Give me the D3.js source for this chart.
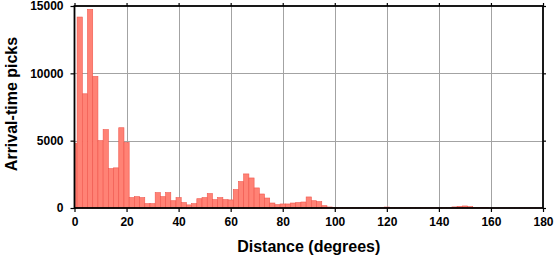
<!DOCTYPE html>
<html>
<head>
<meta charset="utf-8">
<script src="https://cdn.jsdelivr.net/npm/d3@7"></script>
<style>
  body { margin: 0; background: #fff; }
  text { font-family: "Liberation Sans", Arial, sans-serif; font-weight: bold; fill: #000; }
</style>
</head>
<body>
<div id="chart"></div>
<script>
// bin centres (degrees), 2-degree bins, first/last clipped at 0 / 180
const binCenters = d3.range(0, 182, 2);
const picks = [
  4800, 14180, 8480, 14750, 9770, 5000, 5820, 2920, 2980, 5960,
  4860, 770, 840, 770, 320, 320, 1140, 840, 1140, 540,
  770, 400, 230, 320, 690, 770, 1070, 620, 770, 620,
  600, 1370, 1960, 2530, 2230, 1490, 1040, 740, 370, 245,
  300, 300, 370, 400, 445, 820, 540, 470, 170, 75,
  30, 20, 20, 20, 20, 20, 20, 20, 20, 20,
  70, 20, 20, 20, 20, 20, 20, 20, 20, 20,
  20, 20, 20, 80, 120, 150, 100, 30, 30, 30,
  5, 5, 5, 5, 5, 5, 5, 5, 5, 5, 5
];
const xTicks = d3.range(0, 181, 20);
const yTicks = [0, 5000, 10000, 15000];

const W = 555, H = 258;
const mLeft = 74.5, mRight = 543, mTop = 6, mBottom = 208;

const x = d3.scaleLinear().domain([0, 180]).range([mLeft, mRight]);
const y = d3.scaleLinear().domain([0, 15000]).range([mBottom, mTop]);

const svg = d3.select("#chart").append("svg")
    .attr("width", W)
    .attr("height", H);

// grid
const grid = svg.append("g").attr("stroke", "#a3a3a3").attr("stroke-width", 1);
grid.selectAll("line.gx")
    .data(xTicks.slice(1, -1))
    .enter().append("line")
    .attr("x1", d => Math.round(x(d)) + 0.5).attr("x2", d => Math.round(x(d)) + 0.5)
    .attr("y1", mTop).attr("y2", mBottom);
grid.selectAll("line.gy")
    .data(yTicks.slice(1, -1))
    .enter().append("line")
    .attr("x1", mLeft).attr("x2", mRight)
    .attr("y1", d => Math.round(y(d)) + 0.5).attr("y2", d => Math.round(y(d)) + 0.5);

// bars
const bins = binCenters.map((c, i) => ({
    x0: Math.max(0, c - 1),
    x1: Math.min(180, c + 1),
    v: picks[i]
}));

svg.append("g")
    .selectAll("rect")
    .data(bins)
    .enter().append("rect")
    .attr("x", d => x(d.x0))
    .attr("width", d => x(d.x1) - x(d.x0))
    .attr("y", d => y(d.v))
    .attr("height", d => mBottom - y(d.v))
    .attr("fill", "#ff8275")
    .attr("stroke", "#f0564c")
    .attr("stroke-width", 0.6);

// frame
svg.append("rect")
    .attr("x", mLeft).attr("y", mTop)
    .attr("width", mRight - mLeft).attr("height", mBottom - mTop)
    .attr("fill", "none")
    .attr("stroke", "#000")
    .attr("stroke-width", 1.8);

// axes
const fmt = d3.format("d");
const xAxis = svg.append("g")
    .attr("transform", `translate(0,${mBottom})`)
    .call(d3.axisBottom(x).tickValues(xTicks).tickFormat(fmt).tickSize(4).tickPadding(5));
const yAxis = svg.append("g")
    .attr("transform", `translate(${mLeft},0)`)
    .call(d3.axisLeft(y).tickValues(yTicks).tickFormat(fmt).tickSize(4).tickPadding(7));
const xTop = svg.append("g")
    .attr("transform", `translate(0,${mTop})`)
    .call(d3.axisTop(x).tickValues(xTicks).tickFormat("").tickSize(3));
const yRight = svg.append("g")
    .attr("transform", `translate(${mRight},0)`)
    .call(d3.axisRight(y).tickValues(yTicks).tickFormat("").tickSize(3));

[xAxis, yAxis, xTop, yRight].forEach(a => {
    a.select(".domain").remove();
    a.selectAll(".tick line").attr("stroke", "#000").attr("stroke-width", 1.2);
    a.selectAll("text")
        .style("font-family", '"Liberation Sans", Arial, sans-serif')
        .style("font-weight", "bold")
        .style("font-size", "12px")
        .attr("fill", "#000");
});

// titles
svg.append("text")
    .attr("x", (mLeft + mRight) / 2)
    .attr("y", 252)
    .attr("text-anchor", "middle")
    .style("font-size", "16px")
    .text("Distance (degrees)");

svg.append("text")
    .attr("transform", "translate(17,104) rotate(-90)")
    .attr("text-anchor", "middle")
    .style("font-size", "16px")
    .text("Arrival-time picks");
</script>
</body>
</html>
